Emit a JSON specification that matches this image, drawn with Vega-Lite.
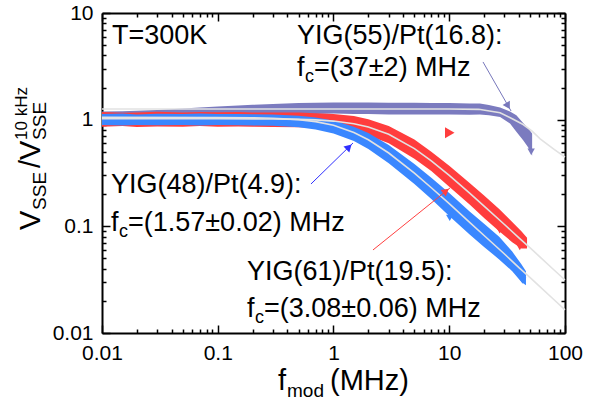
{
  "$schema": "https://vega.github.io/schema/vega-lite/v6.json",
  "width": 463,
  "height": 320,
  "autosize": {"type": "none"},
  "padding": {"left": 102, "top": 13, "right": 26, "bottom": 69},
  "background": "white",
  "config": {
    "view": {"stroke": null},
    "font": "Liberation Sans",
    "text": {"font": "Liberation Sans", "color": "black"},
    "axis": {
      "domain": true, "domainColor": "black", "domainWidth": 2,
      "grid": false, "title": null,
      "tickColor": "black", "tickWidth": 1.5,
      "labelFont": "Liberation Sans", "labelFontSize": 21, "labelColor": "black",
      "labelOverlap": false, "labelFlush": false, "labelBound": false,
      "zindex": 1
    }
  },
  "datasets": {
    "bands": [
      {"series": "YIG(55)/Pt(16.8)", "f": 0.01, "lo": 0.98, "hi": 1.19},
      {"series": "YIG(55)/Pt(16.8)", "f": 0.015, "lo": 0.99, "hi": 1.2},
      {"series": "YIG(55)/Pt(16.8)", "f": 0.02, "lo": 1.0, "hi": 1.21},
      {"series": "YIG(55)/Pt(16.8)", "f": 0.03, "lo": 1.02, "hi": 1.23},
      {"series": "YIG(55)/Pt(16.8)", "f": 0.05, "lo": 1.05, "hi": 1.27},
      {"series": "YIG(55)/Pt(16.8)", "f": 0.07, "lo": 1.07, "hi": 1.3},
      {"series": "YIG(55)/Pt(16.8)", "f": 0.1, "lo": 1.09, "hi": 1.33},
      {"series": "YIG(55)/Pt(16.8)", "f": 0.15, "lo": 1.1, "hi": 1.36},
      {"series": "YIG(55)/Pt(16.8)", "f": 0.2, "lo": 1.11, "hi": 1.38},
      {"series": "YIG(55)/Pt(16.8)", "f": 0.3, "lo": 1.12, "hi": 1.4},
      {"series": "YIG(55)/Pt(16.8)", "f": 0.5, "lo": 1.13, "hi": 1.43},
      {"series": "YIG(55)/Pt(16.8)", "f": 0.7, "lo": 1.13, "hi": 1.44},
      {"series": "YIG(55)/Pt(16.8)", "f": 1, "lo": 1.14, "hi": 1.45},
      {"series": "YIG(55)/Pt(16.8)", "f": 1.5, "lo": 1.13, "hi": 1.45},
      {"series": "YIG(55)/Pt(16.8)", "f": 2, "lo": 1.13, "hi": 1.45},
      {"series": "YIG(55)/Pt(16.8)", "f": 3, "lo": 1.12, "hi": 1.44},
      {"series": "YIG(55)/Pt(16.8)", "f": 5, "lo": 1.12, "hi": 1.44},
      {"series": "YIG(55)/Pt(16.8)", "f": 7, "lo": 1.12, "hi": 1.43},
      {"series": "YIG(55)/Pt(16.8)", "f": 10, "lo": 1.12, "hi": 1.43},
      {"series": "YIG(55)/Pt(16.8)", "f": 15, "lo": 1.11, "hi": 1.42},
      {"series": "YIG(55)/Pt(16.8)", "f": 18.4, "lo": 1.12, "hi": 1.42},
      {"series": "YIG(55)/Pt(16.8)", "f": 22, "lo": 1.1, "hi": 1.37},
      {"series": "YIG(55)/Pt(16.8)", "f": 27.5, "lo": 1.06, "hi": 1.3},
      {"series": "YIG(55)/Pt(16.8)", "f": 33.5, "lo": 0.92, "hi": 1.19},
      {"series": "YIG(55)/Pt(16.8)", "f": 38, "lo": 0.77, "hi": 1.1},
      {"series": "YIG(55)/Pt(16.8)", "f": 43.5, "lo": 0.64, "hi": 0.93},
      {"series": "YIG(55)/Pt(16.8)", "f": 48, "lo": 0.55, "hi": 0.83},
      {"series": "YIG(55)/Pt(16.8)", "f": 52, "lo": 0.46, "hi": 0.74},

      {"series": "YIG(61)/Pt(19.5)", "f": 0.01, "lo": 0.86, "hi": 1.18},
      {"series": "YIG(61)/Pt(19.5)", "f": 0.015, "lo": 0.87, "hi": 1.16},
      {"series": "YIG(61)/Pt(19.5)", "f": 0.02, "lo": 0.855, "hi": 1.17},
      {"series": "YIG(61)/Pt(19.5)", "f": 0.03, "lo": 0.865, "hi": 1.185},
      {"series": "YIG(61)/Pt(19.5)", "f": 0.05, "lo": 0.86, "hi": 1.17},
      {"series": "YIG(61)/Pt(19.5)", "f": 0.07, "lo": 0.87, "hi": 1.18},
      {"series": "YIG(61)/Pt(19.5)", "f": 0.1, "lo": 0.86, "hi": 1.175},
      {"series": "YIG(61)/Pt(19.5)", "f": 0.15, "lo": 0.865, "hi": 1.18},
      {"series": "YIG(61)/Pt(19.5)", "f": 0.2, "lo": 0.86, "hi": 1.17},
      {"series": "YIG(61)/Pt(19.5)", "f": 0.3, "lo": 0.855, "hi": 1.17},
      {"series": "YIG(61)/Pt(19.5)", "f": 0.5, "lo": 0.85, "hi": 1.165},
      {"series": "YIG(61)/Pt(19.5)", "f": 0.7, "lo": 0.84, "hi": 1.15},
      {"series": "YIG(61)/Pt(19.5)", "f": 1, "lo": 0.81, "hi": 1.13},
      {"series": "YIG(61)/Pt(19.5)", "f": 1.5, "lo": 0.76, "hi": 1.08},
      {"series": "YIG(61)/Pt(19.5)", "f": 2, "lo": 0.71, "hi": 1.01},
      {"series": "YIG(61)/Pt(19.5)", "f": 3, "lo": 0.6, "hi": 0.87},
      {"series": "YIG(61)/Pt(19.5)", "f": 5, "lo": 0.43, "hi": 0.65},
      {"series": "YIG(61)/Pt(19.5)", "f": 7, "lo": 0.33, "hi": 0.5},
      {"series": "YIG(61)/Pt(19.5)", "f": 10, "lo": 0.235, "hi": 0.37},
      {"series": "YIG(61)/Pt(19.5)", "f": 15, "lo": 0.16, "hi": 0.255},
      {"series": "YIG(61)/Pt(19.5)", "f": 20, "lo": 0.12, "hi": 0.195},
      {"series": "YIG(61)/Pt(19.5)", "f": 27, "lo": 0.09, "hi": 0.145},
      {"series": "YIG(61)/Pt(19.5)", "f": 35, "lo": 0.071, "hi": 0.11},
      {"series": "YIG(61)/Pt(19.5)", "f": 42, "lo": 0.062, "hi": 0.09},
      {"series": "YIG(61)/Pt(19.5)", "f": 47, "lo": 0.062, "hi": 0.078},

      {"series": "YIG(48)/Pt(4.9)", "f": 0.01, "lo": 0.89, "hi": 1.13},
      {"series": "YIG(48)/Pt(4.9)", "f": 0.015, "lo": 0.88, "hi": 1.14},
      {"series": "YIG(48)/Pt(4.9)", "f": 0.02, "lo": 0.89, "hi": 1.12},
      {"series": "YIG(48)/Pt(4.9)", "f": 0.03, "lo": 0.885, "hi": 1.135},
      {"series": "YIG(48)/Pt(4.9)", "f": 0.05, "lo": 0.89, "hi": 1.13},
      {"series": "YIG(48)/Pt(4.9)", "f": 0.07, "lo": 0.88, "hi": 1.14},
      {"series": "YIG(48)/Pt(4.9)", "f": 0.1, "lo": 0.89, "hi": 1.13},
      {"series": "YIG(48)/Pt(4.9)", "f": 0.15, "lo": 0.885, "hi": 1.13},
      {"series": "YIG(48)/Pt(4.9)", "f": 0.2, "lo": 0.88, "hi": 1.125},
      {"series": "YIG(48)/Pt(4.9)", "f": 0.3, "lo": 0.875, "hi": 1.12},
      {"series": "YIG(48)/Pt(4.9)", "f": 0.5, "lo": 0.85, "hi": 1.09},
      {"series": "YIG(48)/Pt(4.9)", "f": 0.7, "lo": 0.81, "hi": 1.05},
      {"series": "YIG(48)/Pt(4.9)", "f": 1, "lo": 0.74, "hi": 0.98},
      {"series": "YIG(48)/Pt(4.9)", "f": 1.5, "lo": 0.63, "hi": 0.86},
      {"series": "YIG(48)/Pt(4.9)", "f": 2, "lo": 0.53, "hi": 0.75},
      {"series": "YIG(48)/Pt(4.9)", "f": 3, "lo": 0.39, "hi": 0.58},
      {"series": "YIG(48)/Pt(4.9)", "f": 5, "lo": 0.25, "hi": 0.385},
      {"series": "YIG(48)/Pt(4.9)", "f": 7, "lo": 0.18, "hi": 0.285},
      {"series": "YIG(48)/Pt(4.9)", "f": 10, "lo": 0.125, "hi": 0.205},
      {"series": "YIG(48)/Pt(4.9)", "f": 15, "lo": 0.084, "hi": 0.138},
      {"series": "YIG(48)/Pt(4.9)", "f": 20, "lo": 0.064, "hi": 0.106},
      {"series": "YIG(48)/Pt(4.9)", "f": 27, "lo": 0.049, "hi": 0.08},
      {"series": "YIG(48)/Pt(4.9)", "f": 35, "lo": 0.038, "hi": 0.058},
      {"series": "YIG(48)/Pt(4.9)", "f": 42, "lo": 0.03, "hi": 0.044},
      {"series": "YIG(48)/Pt(4.9)", "f": 46, "lo": 0.028, "hi": 0.038}
    ],
    "fits": [
      {"series": "YIG(55)/Pt(16.8)", "f": 0.01, "v": 1.26},
      {"series": "YIG(55)/Pt(16.8)", "f": 1, "v": 1.26},
      {"series": "YIG(55)/Pt(16.8)", "f": 10, "v": 1.26},
      {"series": "YIG(55)/Pt(16.8)", "f": 18, "v": 1.25},
      {"series": "YIG(55)/Pt(16.8)", "f": 27.5, "v": 1.16},
      {"series": "YIG(55)/Pt(16.8)", "f": 35, "v": 1.02},
      {"series": "YIG(55)/Pt(16.8)", "f": 43.5, "v": 0.9},
      {"series": "YIG(55)/Pt(16.8)", "f": 52, "v": 0.78},
      {"series": "YIG(55)/Pt(16.8)", "f": 61, "v": 0.66},
      {"series": "YIG(55)/Pt(16.8)", "f": 80, "v": 0.53},
      {"series": "YIG(55)/Pt(16.8)", "f": 100, "v": 0.446},

      {"series": "YIG(61)/Pt(19.5)", "f": 0.01, "v": 1.02},
      {"series": "YIG(61)/Pt(19.5)", "f": 0.1, "v": 1.0195},
      {"series": "YIG(61)/Pt(19.5)", "f": 0.3, "v": 1.015},
      {"series": "YIG(61)/Pt(19.5)", "f": 0.5, "v": 1.007},
      {"series": "YIG(61)/Pt(19.5)", "f": 0.7, "v": 0.995},
      {"series": "YIG(61)/Pt(19.5)", "f": 1, "v": 0.970},
      {"series": "YIG(61)/Pt(19.5)", "f": 1.5, "v": 0.917},
      {"series": "YIG(61)/Pt(19.5)", "f": 2, "v": 0.855},
      {"series": "YIG(61)/Pt(19.5)", "f": 3, "v": 0.731},
      {"series": "YIG(61)/Pt(19.5)", "f": 5, "v": 0.535},
      {"series": "YIG(61)/Pt(19.5)", "f": 7, "v": 0.411},
      {"series": "YIG(61)/Pt(19.5)", "f": 10, "v": 0.300},
      {"series": "YIG(61)/Pt(19.5)", "f": 15, "v": 0.205},
      {"series": "YIG(61)/Pt(19.5)", "f": 20, "v": 0.155},
      {"series": "YIG(61)/Pt(19.5)", "f": 30, "v": 0.104},
      {"series": "YIG(61)/Pt(19.5)", "f": 40, "v": 0.078},
      {"series": "YIG(61)/Pt(19.5)", "f": 50, "v": 0.0627},
      {"series": "YIG(61)/Pt(19.5)", "f": 60, "v": 0.0523},
      {"series": "YIG(61)/Pt(19.5)", "f": 80, "v": 0.0392},
      {"series": "YIG(61)/Pt(19.5)", "f": 100, "v": 0.0314},

      {"series": "YIG(48)/Pt(4.9)", "f": 0.01, "v": 1.05},
      {"series": "YIG(48)/Pt(4.9)", "f": 0.1, "v": 1.048},
      {"series": "YIG(48)/Pt(4.9)", "f": 0.2, "v": 1.042},
      {"series": "YIG(48)/Pt(4.9)", "f": 0.3, "v": 1.032},
      {"series": "YIG(48)/Pt(4.9)", "f": 0.5, "v": 1.0},
      {"series": "YIG(48)/Pt(4.9)", "f": 0.7, "v": 0.959},
      {"series": "YIG(48)/Pt(4.9)", "f": 1, "v": 0.886},
      {"series": "YIG(48)/Pt(4.9)", "f": 1.5, "v": 0.759},
      {"series": "YIG(48)/Pt(4.9)", "f": 2, "v": 0.648},
      {"series": "YIG(48)/Pt(4.9)", "f": 3, "v": 0.487},
      {"series": "YIG(48)/Pt(4.9)", "f": 5, "v": 0.315},
      {"series": "YIG(48)/Pt(4.9)", "f": 7, "v": 0.230},
      {"series": "YIG(48)/Pt(4.9)", "f": 10, "v": 0.163},
      {"series": "YIG(48)/Pt(4.9)", "f": 15, "v": 0.109},
      {"series": "YIG(48)/Pt(4.9)", "f": 20, "v": 0.082},
      {"series": "YIG(48)/Pt(4.9)", "f": 30, "v": 0.055},
      {"series": "YIG(48)/Pt(4.9)", "f": 40, "v": 0.041},
      {"series": "YIG(48)/Pt(4.9)", "f": 50, "v": 0.033},
      {"series": "YIG(48)/Pt(4.9)", "f": 60, "v": 0.0275},
      {"series": "YIG(48)/Pt(4.9)", "f": 80, "v": 0.0206},
      {"series": "YIG(48)/Pt(4.9)", "f": 100, "v": 0.0165}
    ],
    "tips": [
      {"series": "YIG(61)/Pt(19.5)", "f": 22.5, "v": 0.12},
      {"series": "YIG(61)/Pt(19.5)", "f": 27.3, "v": 0.092},
      {"series": "YIG(61)/Pt(19.5)", "f": 40.7, "v": 0.064},
      {"series": "YIG(48)/Pt(4.9)", "f": 10.1, "v": 0.12},
      {"series": "YIG(48)/Pt(4.9)", "f": 43, "v": 0.031},
      {"series": "YIG(55)/Pt(16.8)", "f": 51, "v": 0.5}
    ],
    "stray": [
      {"series": "YIG(61)/Pt(19.5)", "f": 10.1, "v": 0.755}
    ],
    "arrows": [
      {"series": "YIG(55)/Pt(16.8)", "f": 19.57, "v": 3.475, "f2": 34.2, "v2": 1.206, "hf": 32.2, "hv": 1.344},
      {"series": "YIG(48)/Pt(4.9)", "f": 0.639, "v": 0.2495, "f2": 1.474, "v2": 0.6046, "hf": 1.361, "hv": 0.5546},
      {"series": "YIG(61)/Pt(19.5)", "f": 2.194, "v": 0.06005, "f2": 10.15, "v2": 0.229, "hf": 9.374, "hv": 0.2146}
    ],
    "notes": [
      {"f": 0.0122, "v": 5.124, "main": "T=300K"},
      {"f": 0.4838, "v": 5.124, "main": "YIG(55)/Pt(16.8):"},
      {"f": 0.4838, "v": 2.569, "main": "f", "sub": "c", "rest": "=(37±2) MHz"},
      {"f": 0.01196, "v": 0.2055, "main": "YIG(48)/Pt(4.9):"},
      {"f": 0.01196, "v": 0.0905, "main": "f", "sub": "c", "rest": "=(1.57±0.02) MHz"},
      {"f": 0.179, "v": 0.03143, "main": "YIG(61)/Pt(19.5):"},
      {"f": 0.179, "v": 0.01414, "main": "f", "sub": "c", "rest": "=(3.08±0.06) MHz"}
    ],
    "xtitle": [
      {"f": 0.3316, "v": 0.002924, "a": "f", "b": "mod", "c": "(MHz)"}
    ],
    "ytitle": [
      {"f": 0.002913, "v": 0.09246, "a": "V", "b": "SSE", "c": "/V", "d": "10 kHz", "e": "SSE"}
    ]
  },
  "resolve": {"axis": {"x": "independent", "y": "independent"}},
  "layer": [
    {
      "data": {"name": "bands"},
      "transform": [{"filter": "datum.series === 'YIG(55)/Pt(16.8)'"}],
      "mark": {"type": "area"},
      "encoding": {
        "x": {
          "field": "f", "type": "quantitative",
          "scale": {"type": "log", "domain": [0.01, 100]},
          "axis": {
            "orient": "bottom",
            "values": [0.01, 0.02, 0.03, 0.04, 0.05, 0.06, 0.07, 0.08, 0.09, 0.1, 0.2, 0.3, 0.4, 0.5, 0.6, 0.7, 0.8, 0.9, 1, 2, 3, 4, 5, 6, 7, 8, 9, 10, 20, 30, 40, 50, 60, 70, 80, 90, 100],
            "labelExpr": "abs(log(datum.value)/LN10 - round(log(datum.value)/LN10)) < 0.001 ? format(datum.value, '~g') : ''",
            "tickSize": {"condition": {"test": "abs(log(datum.value)/LN10 - round(log(datum.value)/LN10)) < 0.001", "value": -8}, "value": -4},
            "labelPadding": 17
          }
        },
        "y": {
          "field": "lo", "type": "quantitative",
          "scale": {"type": "log", "domain": [0.01, 10]},
          "axis": {
            "orient": "left",
            "values": [0.01, 0.02, 0.03, 0.04, 0.05, 0.06, 0.07, 0.08, 0.09, 0.1, 0.2, 0.3, 0.4, 0.5, 0.6, 0.7, 0.8, 0.9, 1, 2, 3, 4, 5, 6, 7, 8, 9, 10],
            "labelExpr": "abs(log(datum.value)/LN10 - round(log(datum.value)/LN10)) < 0.001 ? format(datum.value, '~g') : ''",
            "tickSize": {"condition": {"test": "abs(log(datum.value)/LN10 - round(log(datum.value)/LN10)) < 0.001", "value": -8}, "value": -4},
            "labelPadding": 17
          }
        },
        "y2": {"field": "hi"},
        "color": {
          "field": "series", "type": "nominal", "legend": null,
          "scale": {"domain": ["YIG(55)/Pt(16.8)", "YIG(61)/Pt(19.5)", "YIG(48)/Pt(4.9)"], "range": ["#7b7bbf", "#ff3d3d", "#3a87ff"]}
        }
      }
    },
    {
      "data": {"name": "bands"},
      "transform": [{"filter": "datum.series === 'YIG(61)/Pt(19.5)'"}],
      "mark": {"type": "area"},
      "encoding": {
        "x": {"field": "f", "type": "quantitative", "scale": {"type": "log", "domain": [0.01, 100]}, "axis": null},
        "y": {"field": "lo", "type": "quantitative", "scale": {"type": "log", "domain": [0.01, 10]}, "axis": null},
        "y2": {"field": "hi"},
        "color": {"field": "series", "type": "nominal", "legend": null}
      }
    },
    {
      "data": {"name": "bands"},
      "transform": [{"filter": "datum.series === 'YIG(48)/Pt(4.9)'"}],
      "mark": {"type": "area"},
      "encoding": {
        "x": {"field": "f", "type": "quantitative", "scale": {"type": "log", "domain": [0.01, 100]}, "axis": null},
        "y": {"field": "lo", "type": "quantitative", "scale": {"type": "log", "domain": [0.01, 10]}, "axis": null},
        "y2": {"field": "hi"},
        "color": {"field": "series", "type": "nominal", "legend": null}
      }
    },
    {
      "data": {"name": "tips"},
      "mark": {"type": "point", "shape": "triangle-down", "filled": true, "opacity": 1, "size": 55},
      "encoding": {
        "x": {"field": "f", "type": "quantitative", "scale": {"type": "log", "domain": [0.01, 100]}, "axis": null},
        "y": {"field": "v", "type": "quantitative", "scale": {"type": "log", "domain": [0.01, 10]}, "axis": null},
        "color": {"field": "series", "type": "nominal", "legend": null}
      }
    },
    {
      "data": {"name": "stray"},
      "mark": {"type": "point", "shape": "triangle-right", "filled": true, "opacity": 1, "size": 120},
      "encoding": {
        "x": {"field": "f", "type": "quantitative", "scale": {"type": "log", "domain": [0.01, 100]}, "axis": null},
        "y": {"field": "v", "type": "quantitative", "scale": {"type": "log", "domain": [0.01, 10]}, "axis": null},
        "color": {"field": "series", "type": "nominal", "legend": null}
      }
    },
    {
      "data": {"name": "fits"},
      "mark": {"type": "line", "color": "#e2e2e2", "strokeWidth": 1.6},
      "encoding": {
        "x": {
          "field": "f", "type": "quantitative",
          "scale": {"type": "log", "domain": [0.01, 100]},
          "axis": {
            "orient": "top", "labels": false,
            "values": [0.01, 0.02, 0.03, 0.04, 0.05, 0.06, 0.07, 0.08, 0.09, 0.1, 0.2, 0.3, 0.4, 0.5, 0.6, 0.7, 0.8, 0.9, 1, 2, 3, 4, 5, 6, 7, 8, 9, 10, 20, 30, 40, 50, 60, 70, 80, 90, 100],
            "tickSize": {"condition": {"test": "abs(log(datum.value)/LN10 - round(log(datum.value)/LN10)) < 0.001", "value": -8}, "value": -4}
          }
        },
        "y": {
          "field": "v", "type": "quantitative",
          "scale": {"type": "log", "domain": [0.01, 10]},
          "axis": {
            "orient": "right", "labels": false,
            "values": [0.01, 0.02, 0.03, 0.04, 0.05, 0.06, 0.07, 0.08, 0.09, 0.1, 0.2, 0.3, 0.4, 0.5, 0.6, 0.7, 0.8, 0.9, 1, 2, 3, 4, 5, 6, 7, 8, 9, 10],
            "tickSize": {"condition": {"test": "abs(log(datum.value)/LN10 - round(log(datum.value)/LN10)) < 0.001", "value": -8}, "value": -4}
          }
        },
        "detail": {"field": "series"}
      }
    },
    {
      "data": {"name": "arrows"},
      "mark": {"type": "rule", "strokeWidth": 1},
      "encoding": {
        "x": {"field": "f", "type": "quantitative", "scale": {"type": "log", "domain": [0.01, 100]}, "axis": null},
        "y": {"field": "v", "type": "quantitative", "scale": {"type": "log", "domain": [0.01, 10]}, "axis": null},
        "x2": {"field": "f2"},
        "y2": {"field": "v2"},
        "stroke": {
          "field": "series", "type": "nominal", "legend": null,
          "scale": {"domain": ["YIG(55)/Pt(16.8)", "YIG(61)/Pt(19.5)", "YIG(48)/Pt(4.9)"], "range": ["#7777bb", "#ff4040", "#3030ff"]}
        }
      }
    },
    {
      "data": {"name": "arrows"},
      "mark": {"type": "point", "shape": "triangle-up", "filled": true, "opacity": 1, "size": 70},
      "encoding": {
        "x": {"field": "hf", "type": "quantitative", "scale": {"type": "log", "domain": [0.01, 100]}, "axis": null},
        "y": {"field": "hv", "type": "quantitative", "scale": {"type": "log", "domain": [0.01, 10]}, "axis": null},
        "fill": {
          "field": "series", "type": "nominal", "legend": null,
          "scale": {"domain": ["YIG(55)/Pt(16.8)", "YIG(61)/Pt(19.5)", "YIG(48)/Pt(4.9)"], "range": ["#7777bb", "#ff4040", "#3030ff"]}
        },
        "angle": {
          "condition": [
            {"test": "datum.series === 'YIG(55)/Pt(16.8)'", "value": 150},
            {"test": "datum.series === 'YIG(48)/Pt(4.9)'", "value": 46}
          ],
          "value": 51
        }
      }
    },
    {
      "data": {"name": "notes"},
      "mark": {"type": "text", "align": "left", "baseline": "alphabetic", "fontSize": 27},
      "encoding": {
        "x": {"field": "f", "type": "quantitative", "scale": {"type": "log", "domain": [0.01, 100]}, "axis": null},
        "y": {"field": "v", "type": "quantitative", "scale": {"type": "log", "domain": [0.01, 10]}, "axis": null},
        "text": {"field": "main"}
      }
    },
    {
      "data": {"name": "notes"},
      "transform": [{"filter": "isValid(datum.sub)"}],
      "mark": {"type": "text", "align": "left", "baseline": "alphabetic", "fontSize": 18, "dx": 8, "dy": 6},
      "encoding": {
        "x": {"field": "f", "type": "quantitative", "scale": {"type": "log", "domain": [0.01, 100]}, "axis": null},
        "y": {"field": "v", "type": "quantitative", "scale": {"type": "log", "domain": [0.01, 10]}, "axis": null},
        "text": {"field": "sub"}
      }
    },
    {
      "data": {"name": "notes"},
      "transform": [{"filter": "isValid(datum.rest)"}],
      "mark": {"type": "text", "align": "left", "baseline": "alphabetic", "fontSize": 27, "dx": 17},
      "encoding": {
        "x": {"field": "f", "type": "quantitative", "scale": {"type": "log", "domain": [0.01, 100]}, "axis": null},
        "y": {"field": "v", "type": "quantitative", "scale": {"type": "log", "domain": [0.01, 10]}, "axis": null},
        "text": {"field": "rest"}
      }
    },
    {
      "data": {"name": "xtitle"},
      "mark": {"type": "text", "align": "left", "baseline": "alphabetic", "fontSize": 29},
      "encoding": {
        "x": {"field": "f", "type": "quantitative", "scale": {"type": "log", "domain": [0.01, 100]}, "axis": null},
        "y": {"field": "v", "type": "quantitative", "scale": {"type": "log", "domain": [0.01, 10]}, "axis": null},
        "text": {"field": "a"}
      }
    },
    {
      "data": {"name": "xtitle"},
      "mark": {"type": "text", "align": "left", "baseline": "alphabetic", "fontSize": 19, "dx": 9, "dy": 7},
      "encoding": {
        "x": {"field": "f", "type": "quantitative", "scale": {"type": "log", "domain": [0.01, 100]}, "axis": null},
        "y": {"field": "v", "type": "quantitative", "scale": {"type": "log", "domain": [0.01, 10]}, "axis": null},
        "text": {"field": "b"}
      }
    },
    {
      "data": {"name": "xtitle"},
      "mark": {"type": "text", "align": "left", "baseline": "alphabetic", "fontSize": 29, "dx": 52},
      "encoding": {
        "x": {"field": "f", "type": "quantitative", "scale": {"type": "log", "domain": [0.01, 100]}, "axis": null},
        "y": {"field": "v", "type": "quantitative", "scale": {"type": "log", "domain": [0.01, 10]}, "axis": null},
        "text": {"field": "c"}
      }
    },
    {
      "data": {"name": "ytitle"},
      "mark": {"type": "text", "align": "left", "baseline": "alphabetic", "fontSize": 29, "angle": 270},
      "encoding": {
        "x": {"field": "f", "type": "quantitative", "scale": {"type": "log", "domain": [0.01, 100]}, "axis": null},
        "y": {"field": "v", "type": "quantitative", "scale": {"type": "log", "domain": [0.01, 10]}, "axis": null},
        "text": {"field": "a"}
      }
    },
    {
      "data": {"name": "ytitle"},
      "mark": {"type": "text", "align": "left", "baseline": "alphabetic", "fontSize": 19, "angle": 270, "dx": 20, "dy": 6},
      "encoding": {
        "x": {"field": "f", "type": "quantitative", "scale": {"type": "log", "domain": [0.01, 100]}, "axis": null},
        "y": {"field": "v", "type": "quantitative", "scale": {"type": "log", "domain": [0.01, 10]}, "axis": null},
        "text": {"field": "b"}
      }
    },
    {
      "data": {"name": "ytitle"},
      "mark": {"type": "text", "align": "left", "baseline": "alphabetic", "fontSize": 29, "angle": 270, "dx": 62},
      "encoding": {
        "x": {"field": "f", "type": "quantitative", "scale": {"type": "log", "domain": [0.01, 100]}, "axis": null},
        "y": {"field": "v", "type": "quantitative", "scale": {"type": "log", "domain": [0.01, 10]}, "axis": null},
        "text": {"field": "c"}
      }
    },
    {
      "data": {"name": "ytitle"},
      "mark": {"type": "text", "align": "left", "baseline": "alphabetic", "fontSize": 17, "angle": 270, "dx": 90, "dy": -13},
      "encoding": {
        "x": {"field": "f", "type": "quantitative", "scale": {"type": "log", "domain": [0.01, 100]}, "axis": null},
        "y": {"field": "v", "type": "quantitative", "scale": {"type": "log", "domain": [0.01, 10]}, "axis": null},
        "text": {"field": "d"}
      }
    },
    {
      "data": {"name": "ytitle"},
      "mark": {"type": "text", "align": "left", "baseline": "alphabetic", "fontSize": 19, "angle": 270, "dx": 90, "dy": 6},
      "encoding": {
        "x": {"field": "f", "type": "quantitative", "scale": {"type": "log", "domain": [0.01, 100]}, "axis": null},
        "y": {"field": "v", "type": "quantitative", "scale": {"type": "log", "domain": [0.01, 10]}, "axis": null},
        "text": {"field": "e"}
      }
    }
  ]
}
